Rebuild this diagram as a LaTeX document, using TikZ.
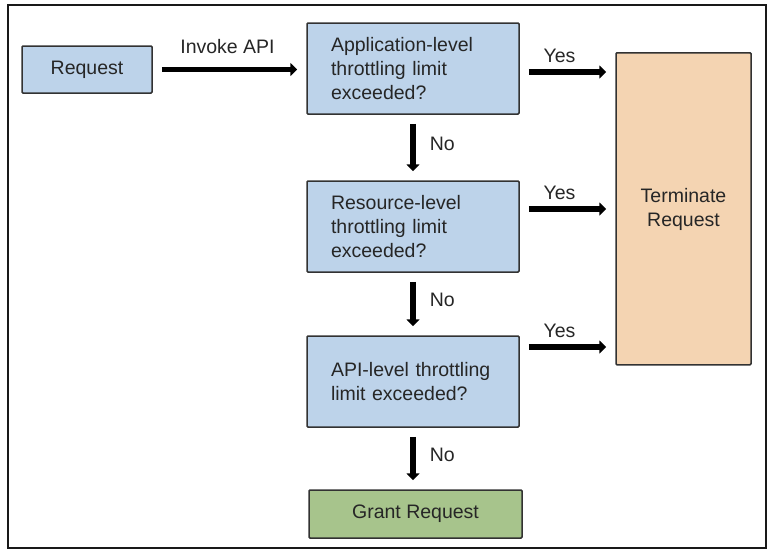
\documentclass[tikz,border=0pt]{standalone}
\usepackage{fontspec}
\setmainfont{Liberation Sans}
\usetikzlibrary{arrows.meta}
\definecolor{boxblue}{RGB}{189,211,234}
\definecolor{boxpeach}{RGB}{244,212,178}
\definecolor{boxgreen}{RGB}{167,196,140}
\definecolor{boxline}{RGB}{50,50,50}
\begin{document}
\begin{tikzpicture}[x=1pt,y=-1pt,
  every node/.style={font=\fontsize{19.5}{24}\selectfont, text=black!85},
  box/.style={draw=boxline, line width=1.5pt, rounded corners=1pt, inner sep=0pt},
  qbox/.style={box, fill=boxblue, minimum width=212pt, minimum height=91pt,
     text width=164pt, inner xsep=24pt, align=left},
  flow/.style={line width=5.5pt, -{Triangle[length=7pt,width=13pt]}, shorten <=9pt, shorten >=9pt},
  lbl/.style={inner sep=2pt}]
\useasboundingbox (0,0) rectangle (770,552);
\draw[line width=2pt, black!90] (8,5) rectangle (766,548);

\node[box, fill=boxblue, minimum width=130pt, minimum height=47pt] (req) at (87,69.5) {Request};
\node[qbox] (app) at (413,68.5) {Application-level\\throttling limit\\exceeded?};
\node[qbox] (res) at (413,226.5) {Resource-level\\throttling limit\\exceeded?};
\node[qbox] (api) at (413,381.5) {API-level throttling\\limit exceeded?};
\node[box, fill=boxgreen, minimum width=213pt, minimum height=48pt] (grant) at (415.5,514) {Grant Request};
\node[box, fill=boxpeach, minimum width=135pt, minimum height=312pt, anchor=north] (term) at (683.5,52) {};
\node[align=center] (termtxt) at (683.5,209.5) {Terminate\\Request};

\draw[flow] (req.east) -- node[lbl, above=11pt, xshift=-2pt] (invoke) {Invoke API} (req.east -| app.west);
\draw[flow] ([yshift=-3.5pt]app.east) -- node[lbl, above=5pt, xshift=-8pt] (y1) {Yes} ([yshift=-3.5pt]app.east -| term.west);
\draw[flow] ([yshift=17.5pt]res.east) -- node[lbl, above=5pt, xshift=-8pt] (y2) {Yes} ([yshift=17.5pt]res.east -| term.west);
\draw[flow] ([yshift=34.5pt]api.east) -- node[lbl, above=5pt, xshift=-8pt] (y3) {Yes} ([yshift=34.5pt]api.east -| term.west);

\draw[flow] (app.south) -- node[lbl, right=12pt, yshift=4pt] (n1) {No} (res.north);
\draw[flow] (res.south) -- node[lbl, right=12pt, yshift=4pt] (n2) {No} (api.north);
\draw[flow] (api.south) -- node[lbl, right=12pt, yshift=4pt] (n3) {No} (api.south |- grant.north);
\end{tikzpicture}
\end{document}
